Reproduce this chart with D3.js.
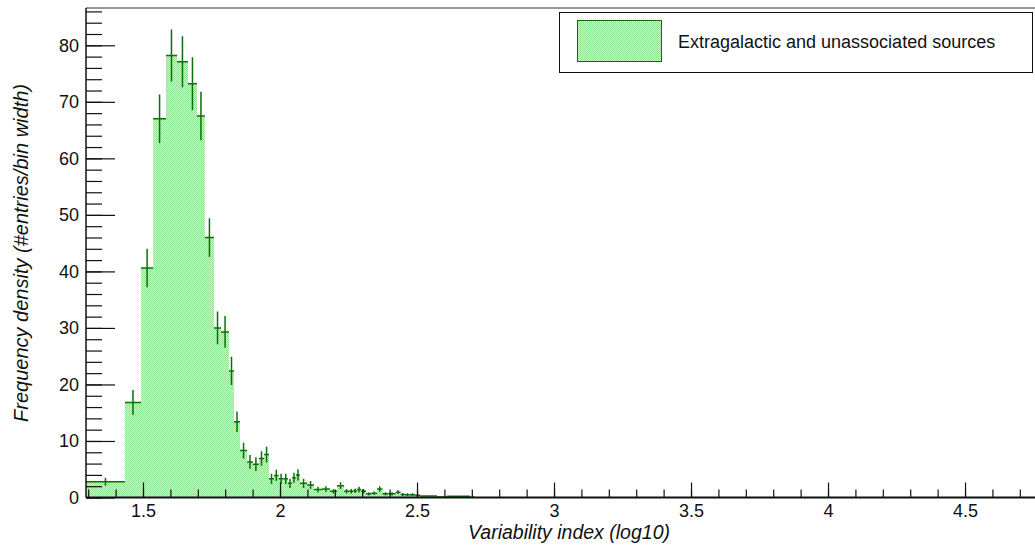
<!DOCTYPE html>
<html>
<head>
<meta charset="utf-8">
<script src="https://cdn.jsdelivr.net/npm/d3@7"></script>
<style>
  html, body { margin: 0; padding: 0; background: #fff; }
  svg { display: block; font-family: "Liberation Sans", Arial, Helvetica, sans-serif; }
</style>
</head>
<body>
<div id="chart"></div>
<script>
// bin edges in log10(variability index)
var edges = [1.292, 1.434, 1.493, 1.537, 1.584, 1.624, 1.664, 1.697, 1.726, 1.759, 1.785, 1.814, 1.832,
    1.854, 1.880, 1.901, 1.923, 1.942, 1.960, 1.978, 1.995, 2.013, 2.029, 2.044, 2.058, 2.073,
    2.099, 2.124, 2.153, 2.182, 2.208, 2.234, 2.252, 2.268, 2.281, 2.296, 2.314, 2.334, 2.354,
    2.374, 2.396, 2.422, 2.440, 2.456, 2.474, 2.493, 2.511, 2.573, 2.609, 2.693, 2.712];

// frequency density per bin (#entries / bin width)
var density = [2.8, 16.8, 40.6, 67.0, 78.2, 77.1, 73.2, 67.5, 46.0, 30.0, 29.3, 22.4,
    13.4, 8.3, 6.3, 5.9, 6.9, 7.6, 3.3, 3.9, 3.3, 3.3, 2.5, 3.5, 4.0,
    2.5, 2.2, 1.4, 1.5, 1.1, 2.1, 1.1, 1.1, 1.2, 1.4, 1.1, 0.65, 0.75,
    1.5, 0.65, 0.65, 0.95, 0.53, 0.5, 0.5, 0.4, 0.25, 0.1, 0.2, 0.05];

// statistical error per bin
var errors = [0.7, 2.2, 3.4, 4.3, 4.6, 4.5, 4.7, 4.3, 3.4, 2.9, 2.8, 2.5,
    1.8, 1.4, 1.2, 1.2, 1.3, 1.4, 0.9, 1.0, 0.9, 0.9, 0.8, 0.9, 1.0,
    0.8, 0.7, 0.5, 0.5, 0.4, 0.6, 0.4, 0.4, 0.4, 0.5, 0.4, 0.3, 0.3,
    0.5, 0.3, 0.3, 0.35, 0.25, 0.25, 0.25, 0.2, 0, 0, 0, 0];

var xMajor = [1.5, 2, 2.5, 3, 3.5, 4, 4.5];
var yMajor = [0, 10, 20, 30, 40, 50, 60, 70, 80];

var legendLabel = 'Extragalactic and unassociated sources';
var xTitle = 'Variability index (log10)';
var yTitle = 'Frequency density (#entries/bin width)';

(function () {
    var width = 1035, height = 545;
    var pLeft = 86, pRight = 1036, pTop = 8, pBottom = 497.5;
    var lineColor = '#0a700a';

    var x = d3.scaleLinear().domain([1.292, 4.759]).range([pLeft, pRight]);
    var y = d3.scaleLinear().domain([0, 86.6]).range([pBottom, pTop]);

    var svg = d3.select('#chart').append('svg')
        .attr('width', width)
        .attr('height', height);

    var defs = svg.append('defs');

    var pat = defs.append('pattern')
        .attr('id', 'dots')
        .attr('patternUnits', 'userSpaceOnUse')
        .attr('width', 2)
        .attr('height', 2);
    pat.append('rect').attr('width', 2).attr('height', 2).attr('fill', '#d4f5d4');
    pat.append('rect').attr('x', 0).attr('y', 0).attr('width', 1).attr('height', 1).attr('fill', '#8ee08e');
    pat.append('rect').attr('x', 1).attr('y', 1).attr('width', 1).attr('height', 1).attr('fill', '#8ee08e');

    defs.append('clipPath').attr('id', 'plot')
        .append('rect')
        .attr('x', pLeft).attr('y', pTop)
        .attr('width', pRight - pLeft).attr('height', pBottom - pTop);

    // histogram body
    var pts = density.map(function (d, i) { return [edges[i], d]; });
    pts.push([edges[edges.length - 1], density[density.length - 1]]);

    var area = d3.area()
        .curve(d3.curveStepAfter)
        .x(function (d) { return x(d[0]); })
        .y0(y(0))
        .y1(function (d) { return y(d[1]); });

    var g = svg.append('g').attr('clip-path', 'url(#plot)');

    g.append('path')
        .datum(pts)
        .attr('fill', 'url(#dots)')
        .attr('d', area);

    // error crosses
    var bins = density.map(function (d, i) {
        return { x0: edges[i], x1: edges[i + 1], v: d, e: errors[i] };
    });

    var cross = g.selectAll('.cross').data(bins).enter().append('g').attr('class', 'cross');

    cross.append('line')
        .attr('x1', function (d) { return x(d.x0); })
        .attr('x2', function (d) { return x(d.x1); })
        .attr('y1', function (d) { return y(d.v); })
        .attr('y2', function (d) { return y(d.v); })
        .attr('stroke', lineColor)
        .attr('stroke-width', 1.5);

    cross.filter(function (d) { return d.e > 0; }).append('line')
        .attr('x1', function (d) { return x((d.x0 + d.x1) / 2); })
        .attr('x2', function (d) { return x((d.x0 + d.x1) / 2); })
        .attr('y1', function (d) { return y(d.v + d.e); })
        .attr('y2', function (d) { return y(Math.max(0, d.v - d.e)); })
        .attr('stroke', lineColor)
        .attr('stroke-width', 1.5);

    // axes (ticks inside, ROOT style)
    var fmt = d3.format('~g');

    var yMinorAxis = d3.axisLeft(y).tickValues(d3.range(0, 87, 2)).tickSize(-16).tickFormat('');
    var yAxis = d3.axisLeft(y).tickValues(yMajor).tickSize(-29).tickPadding(7).tickFormat(fmt);
    var xMinorAxis = d3.axisBottom(x).tickValues(d3.range(1.3, 4.76, 0.1)).tickSize(-8).tickFormat('');
    var xAxis = d3.axisBottom(x).tickValues(xMajor).tickSize(-15).tickPadding(7).tickFormat(fmt);

    function style(sel, fs) {
        sel.select('.domain').remove();
        sel.selectAll('line').attr('stroke', '#111').attr('stroke-width', 1.2);
        sel.selectAll('text').attr('fill', '#111').style('font-size', fs + 'px');
    }

    svg.append('g').attr('transform', 'translate(' + pLeft + ',0)').call(yMinorAxis).call(style, 18);
    svg.append('g').attr('transform', 'translate(' + pLeft + ',0)').call(yAxis).call(style, 18);
    svg.append('g').attr('transform', 'translate(0,' + pBottom + ')').call(xMinorAxis).call(style, 18);
    svg.append('g').attr('transform', 'translate(0,' + pBottom + ')').call(xAxis).call(style, 18);

    // frame
    svg.append('line').attr('x1', pLeft).attr('x2', pRight).attr('y1', pTop).attr('y2', pTop)
        .attr('stroke', '#333').attr('stroke-width', 1.2);
    svg.append('line').attr('x1', pLeft).attr('x2', pLeft).attr('y1', pTop).attr('y2', pBottom)
        .attr('stroke', '#111').attr('stroke-width', 1.5);
    svg.append('line').attr('x1', pLeft).attr('x2', pRight).attr('y1', pBottom).attr('y2', pBottom)
        .attr('stroke', '#111').attr('stroke-width', 2);

    // axis titles
    svg.append('text')
        .attr('x', 670).attr('y', 539)
        .attr('text-anchor', 'end')
        .style('font-size', '19.5px')
        .style('font-style', 'italic')
        .attr('fill', '#111')
        .text(xTitle);

    svg.append('text')
        .attr('transform', 'translate(28,84) rotate(-90)')
        .attr('text-anchor', 'end')
        .style('font-size', '20px')
        .style('font-style', 'italic')
        .attr('fill', '#111')
        .text(yTitle);

    // legend
    var leg = svg.append('g');
    leg.append('rect')
        .attr('x', 559.5).attr('y', 12.5).attr('width', 473).attr('height', 60)
        .attr('fill', '#fff').attr('stroke', '#111').attr('stroke-width', 1);
    leg.append('rect')
        .attr('x', 577.5).attr('y', 20.5).attr('width', 84).attr('height', 41)
        .attr('fill', 'url(#dots)').attr('stroke', lineColor).attr('stroke-width', 1);
    leg.append('text')
        .attr('x', 678).attr('y', 42)
        .attr('dy', '0.35em')
        .style('font-size', '18px')
        .attr('fill', '#111')
        .text(legendLabel);
})();
</script>
</body>
</html>
